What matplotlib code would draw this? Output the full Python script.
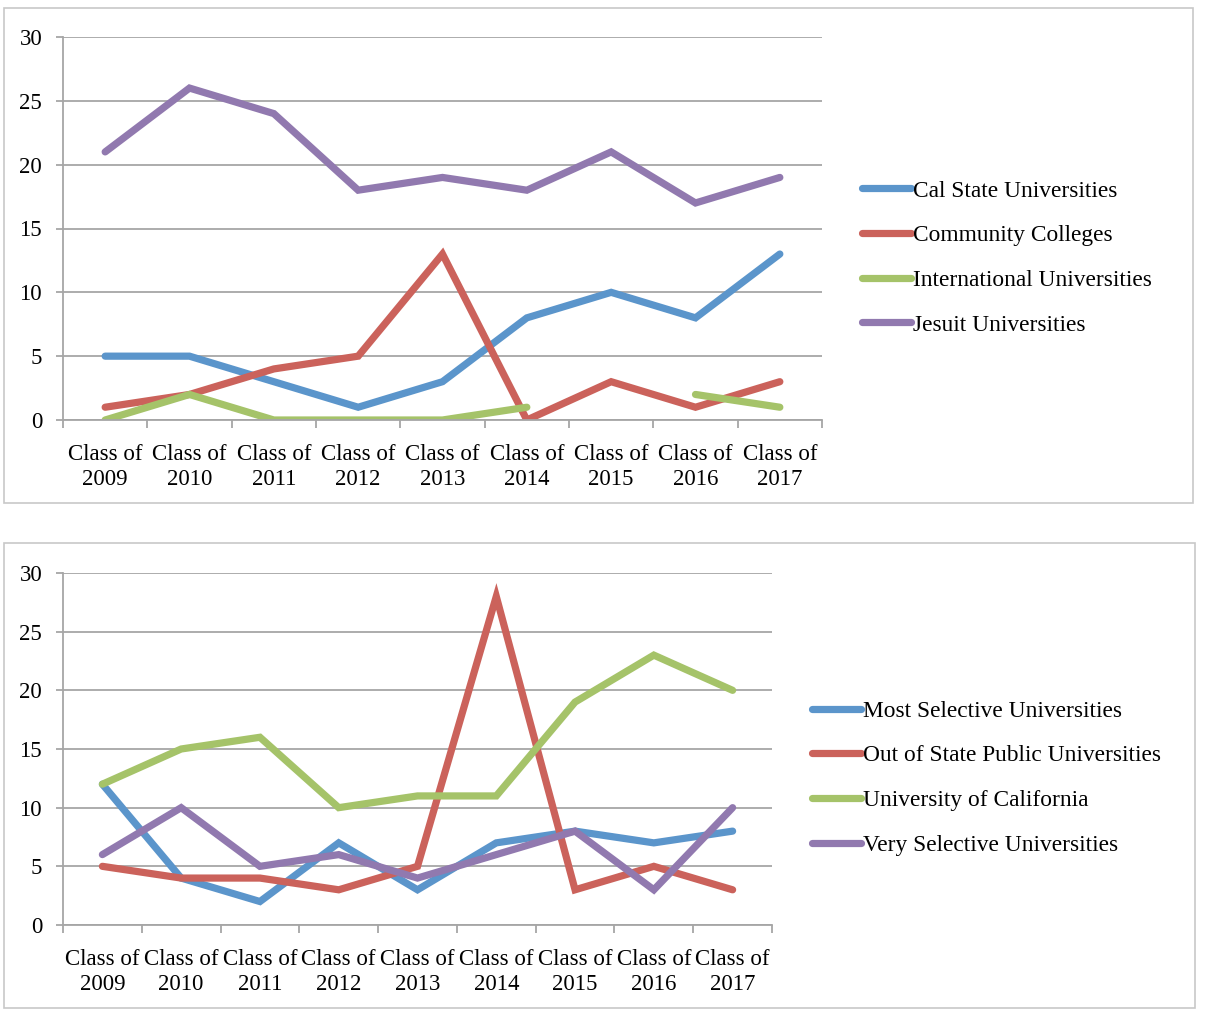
import matplotlib.pyplot as plt
import numpy as np
from matplotlib.patches import Rectangle

plt.rcParams['font.family'] = ['Liberation Serif', 'DejaVu Serif']

# categories
classes = ['Class of\n2009', 'Class of\n2010', 'Class of\n2011', 'Class of\n2012',
           'Class of\n2013', 'Class of\n2014', 'Class of\n2015', 'Class of\n2016',
           'Class of\n2017']

# top chart
cal_state = [5, 5, 3, 1, 3, 8, 10, 8, 13]
community = [1, 2, 4, 5, 13, 0, 3, 1, 3]
international = [0, 2, 0, 0, 0, 1, np.nan, 2, 1]
jesuit = [21, 26, 24, 18, 19, 18, 21, 17, 19]

# bottom chart
most_selective = [12, 4, 2, 7, 3, 7, 8, 7, 8]
out_of_state = [5, 4, 4, 3, 5, 28, 3, 5, 3]
univ_california = [12, 15, 16, 10, 11, 11, 19, 23, 20]
very_selective = [6, 10, 5, 6, 4, 6, 8, 3, 10]

colors = ['#5B95CB', '#CB625B', '#A5C369', '#9179AF']
grid_col = '#A6A6A6'

fig = plt.figure(figsize=(12.08, 10.24), dpi=100)

# panel borders
for (x0, y0, x1, y1) in [(4, 8, 1193, 503), (4, 543, 1195, 1008)]:
    fig.patches.append(Rectangle((x0 / 1208, 1 - y1 / 1024), (x1 - x0) / 1208,
                                 (y1 - y0) / 1024, transform=fig.transFigure,
                                 fill=False, edgecolor='#C8C8C8', lw=1.2))


def draw_panel(rect, series, labels, leg_anchor, fs):
    ax = fig.add_axes(rect)
    x = np.arange(len(classes))
    for vals, lab, c in zip(series, labels, colors):
        ax.plot(x, vals, color=c, lw=5.2, label=lab, solid_capstyle='round',
                solid_joinstyle='miter')
    ax.set_xlim(-0.5, len(classes) - 0.5)
    ax.set_ylim(0, 30)
    ax.set_yticks(range(0, 31, 5))
    ax.yaxis.grid(True, color=grid_col, lw=1.3)
    ax.set_axisbelow(True)
    ax.set_xticks(x)
    ax.set_xticklabels(classes, fontsize=fs, linespacing=1.25)
    ax.set_xticks(np.arange(-0.5, len(classes), 1), minor=True)
    ax.tick_params(axis='x', which='major', length=0, pad=17)
    ax.tick_params(axis='x', which='minor', length=6, color=grid_col, width=1.3)
    ax.tick_params(axis='y', length=5, color=grid_col, width=1.3,
                   labelsize=fs, pad=10)
    for s in ['top', 'right']:
        ax.spines[s].set_visible(False)
    for s in ['left', 'bottom']:
        ax.spines[s].set_color(grid_col)
        ax.spines[s].set_linewidth(1.3)
    ax.legend(loc='center left', bbox_to_anchor=leg_anchor,
              bbox_transform=fig.transFigure, frameon=False, fontsize=16.8,
              handlelength=2.1, handletextpad=0.1, labelspacing=1.0,
              borderpad=0, borderaxespad=0)
    return ax


draw_panel([63 / 1208, 1 - 420 / 1024, (822 - 63) / 1208, (420 - 37) / 1024],
           [cal_state, community, international, jesuit],
           ['Cal State Universities', 'Community Colleges',
            'International Universities', 'Jesuit Universities'],
           (862 / 1208, 1 - 258 / 1024), 16.5)

draw_panel([63 / 1208, 1 - 925 / 1024, (772 - 63) / 1208, (925 - 573) / 1024],
           [most_selective, out_of_state, univ_california, very_selective],
           ['Most Selective Universities', 'Out of State Public Universities',
            'University of California', 'Very Selective Universities'],
           (812 / 1208, 1 - 778 / 1024), 16.5)

fig.savefig('out.png', dpi=100)
